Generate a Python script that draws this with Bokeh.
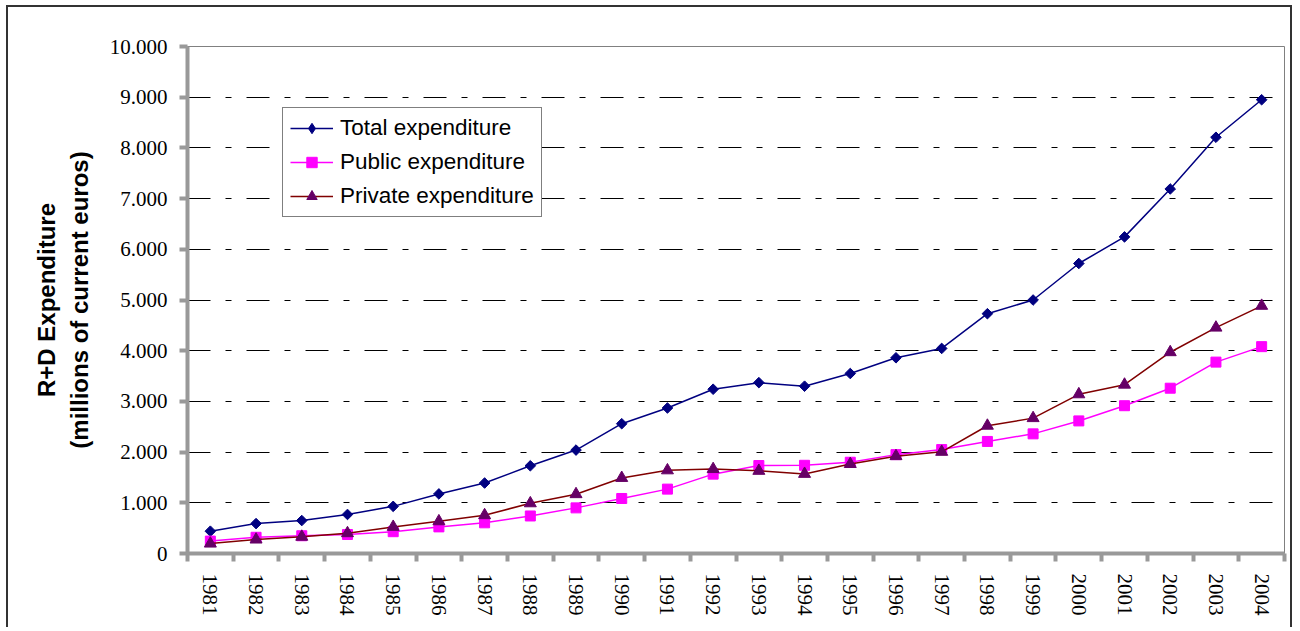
import math
from bokeh.plotting import figure
from bokeh.models import FixedTicker, Legend, LegendItem, Range1d, ColumnDataSource
from bokeh.embed import file_html
from bokeh.resources import INLINE

# ---- data ----
years = list(range(1981, 2005))
total = [440, 590, 650, 770, 930, 1175, 1390, 1730, 2040, 2560, 2870, 3240,
         3370, 3300, 3550, 3860, 4045, 4730, 5000, 5720, 6245, 7190, 8210, 8950]
public = [245, 320, 350, 375, 430, 525, 605, 740, 900, 1085, 1270, 1565,
          1735, 1740, 1800, 1950, 2050, 2210, 2360, 2615, 2915, 3260, 3775, 4080]
private = [195, 275, 330, 400, 525, 635, 755, 990, 1170, 1490, 1640, 1665,
           1630, 1570, 1765, 1920, 2005, 2520, 2670, 3140, 3330, 3970, 4455, 4885]
series_names = ["Total expenditure", "Public expenditure", "Private expenditure"]
y_ticks = [0, 1000, 2000, 3000, 4000, 5000, 6000, 7000, 8000, 9000, 10000]
y_tick_labels = ["0", "1.000", "2.000", "3.000", "4.000", "5.000",
                 "6.000", "7.000", "8.000", "9.000", "10.000"]
y_title = "R+D Expenditure\n(millions of current euros)"

src = ColumnDataSource(dict(year=years, total=total, public=public, private=private))

p = figure(width=1286, height=622, output_backend="svg", toolbar_location=None,
           x_range=Range1d(years[0] - 0.5, years[-1] + 0.5),
           y_range=Range1d(y_ticks[0], y_ticks[-1]),
           min_border_left=179, min_border_right=10, min_border_top=39,
           min_border_bottom=76)
p.margin = (5, 0, 0, 6)
p.styles = {"border-top": "2px solid #333333", "border-left": "2px solid #333333",
            "border-right": "2px solid #333333"}
p.background_fill_color = "white"
p.border_fill_color = "white"
p.outline_line_color = "#808080"
p.outline_line_width = 1

axis_gray = "#999999"
tick_font = "Liberation Serif"

# x axis: labels at category centres, ticks at category boundaries
xa = p.xaxis[0]
xa.ticker = FixedTicker(ticks=years, minor_ticks=[y - 0.5 for y in years] + [years[-1] + 0.5])
xa.major_label_overrides = {y: str(y) for y in years}
xa.major_tick_out = 0
xa.major_tick_in = 0
xa.minor_tick_out = 8
xa.minor_tick_in = 0
xa.minor_tick_line_color = axis_gray
xa.minor_tick_line_width = 4
xa.axis_line_color = axis_gray
xa.axis_line_width = 4
xa.major_label_orientation = "vertical"
xa.major_label_standoff = 12
xa.major_label_text_font = tick_font
xa.major_label_text_font_size = "21px"
xa.major_label_text_color = "black"

ya = p.yaxis[0]
ya.ticker = FixedTicker(ticks=y_ticks)
ya.major_label_overrides = {t: l for t, l in zip(y_ticks, y_tick_labels)}
ya.major_tick_out = 8
ya.major_tick_in = 0
ya.major_tick_line_color = axis_gray
ya.major_tick_line_width = 4
ya.minor_tick_line_color = None
ya.axis_line_color = axis_gray
ya.axis_line_width = 4
ya.major_label_standoff = 12
ya.major_label_text_font = tick_font
ya.major_label_text_font_size = "21px"
ya.major_label_text_color = "black"
ya.axis_label = y_title
ya.axis_label_text_font = "Liberation Sans"
ya.axis_label_text_font_size = "24px"
ya.axis_label_text_font_style = "bold"
ya.axis_label_text_color = "black"
ya.axis_label_standoff = 14

p.xgrid.grid_line_color = None
p.ygrid.ticker = FixedTicker(ticks=y_ticks[1:-1])
p.ygrid.grid_line_color = "black"
p.ygrid.grid_line_width = 1
p.ygrid.grid_line_dash = "23 15 6 15"

# series
r1l = p.line("year", "total", source=src, line_color="#000080", line_width=1.5)
r1m = p.scatter("year", "total", source=src, marker="square", angle=math.pi / 4, size=7.5,
                fill_color="#000080", line_color="#000080")
# same data as a diamond, only used for the legend swatch (legend ignores marker angle)
r1k = p.scatter("year", "total", source=src, marker="diamond", size=12,
                fill_color="#000080", line_color="#000080", visible=False)
r2l = p.line("year", "public", source=src, line_color="#FF00FF", line_width=1.5)
r2m = p.scatter("year", "public", source=src, marker="square", size=10,
                fill_color="#FF00FF", line_color="#FF00FF")
r3l = p.line("year", "private", source=src, line_color="#800000", line_width=1.5)
r3m = p.scatter("year", "private", source=src, marker="triangle", size=12,
                fill_color="#660066", line_color="#660066")

legend = Legend(items=[LegendItem(label=series_names[0], renderers=[r1l, r1k]),
                       LegendItem(label=series_names[1], renderers=[r2l, r2m]),
                       LegendItem(label=series_names[2], renderers=[r3l, r3m])],
                location=(95, 336))
legend.label_text_font = "Liberation Sans"
legend.label_text_font_size = "22.5px"
legend.label_text_color = "black"
legend.glyph_width = 43
legend.glyph_height = 26
legend.label_height = 26
legend.label_standoff = 7
legend.padding = 7
legend.spacing = 8
legend.margin = 0
legend.border_line_color = "black"
legend.border_line_width = 1
legend.background_fill_color = "white"
legend.background_fill_alpha = 1
p.add_layout(legend)

open("out.html", "w").write(file_html(p, INLINE))
